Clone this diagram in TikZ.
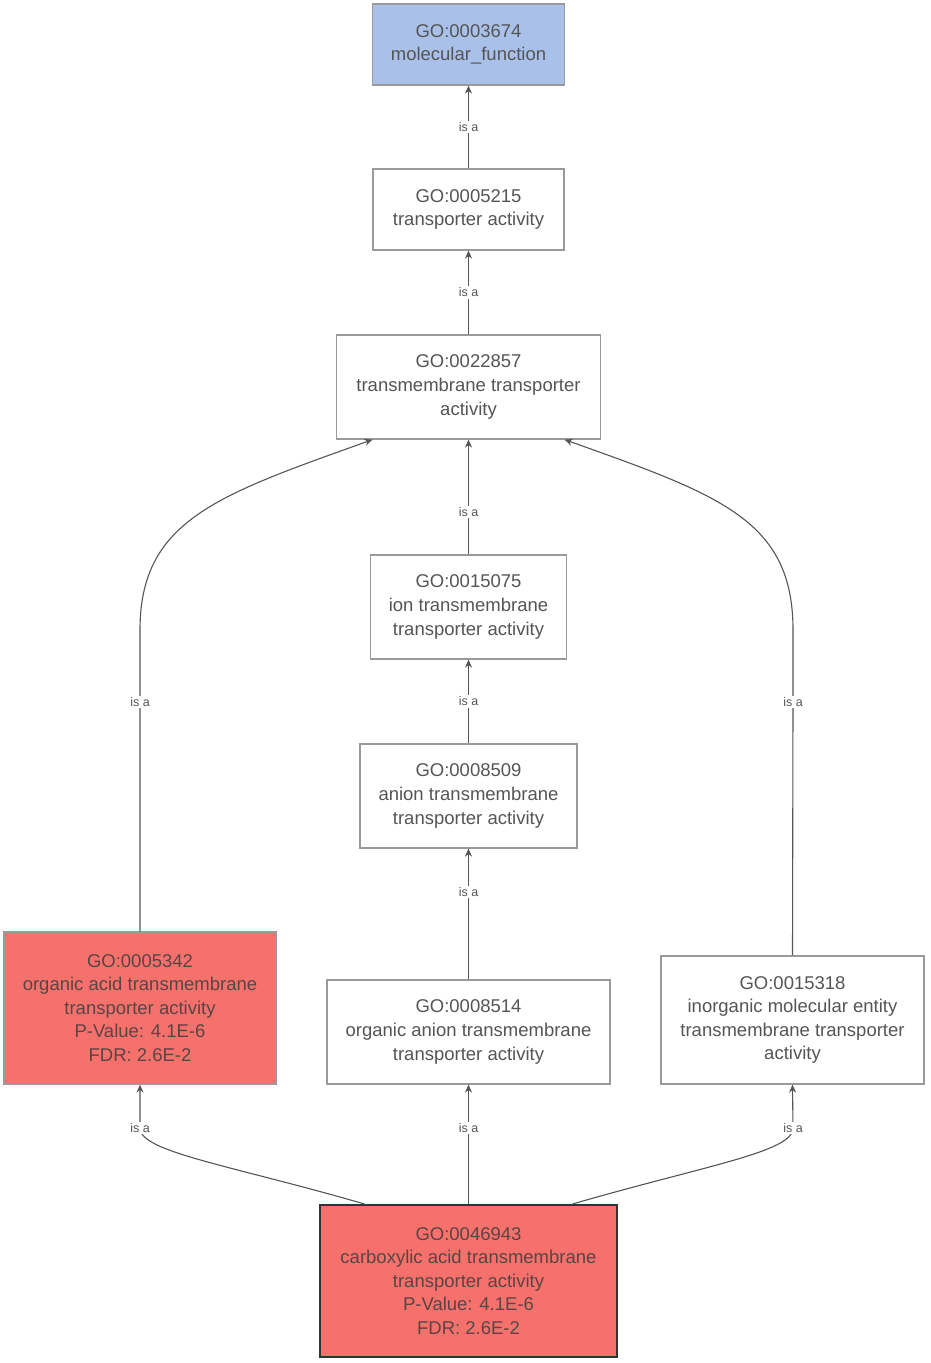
\documentclass[tikz,border=0pt]{standalone}
\usepackage{fontspec}
\setmainfont{Liberation Sans}
\usetikzlibrary{arrows.meta}
\definecolor{txt}{HTML}{555555}
\definecolor{sigtxt}{HTML}{5A4444}
\definecolor{boxgray}{HTML}{9A9A9A}
\definecolor{edgegray}{HTML}{555555}
\definecolor{sigred}{HTML}{F7716C}
\definecolor{rootblue}{HTML}{A9C1E8}
\definecolor{darkborder}{HTML}{333333}
\begin{document}
\begin{tikzpicture}[x=1pt,y=-1pt,
  goterm/.style={draw=boxgray, line width=1.2pt, fill=white, text=txt, align=center,
    font=\fontsize{18.5}{23.6}\selectfont, inner sep=0pt,
    execute at begin node={\rule{0pt}{19pt}}},
  sigterm/.style={goterm, fill=sigred, text=sigtxt},
  rootterm/.style={goterm, fill=rootblue},
  queryterm/.style={goterm, fill=sigred, text=sigtxt, draw=darkborder, line width=2pt},
  lbl/.style={fill=white, text=txt, font=\fontsize{12.5}{14}\selectfont, inner sep=1.5pt},
  isa/.style={draw=edgegray, line width=1.1pt, -{Stealth[length=8pt,width=7pt]}}]
\useasboundingbox (0,0) rectangle (930,1363);
\node[rootterm, minimum width=192pt, minimum height=81pt] (n1) at (468.5,44.5) {GO:0003674\\molecular\_function};
\node[goterm, minimum width=191pt, minimum height=81pt] (n2) at (468.5,209.5) {GO:0005215\\transporter activity};
\node[goterm, minimum width=264pt, minimum height=104pt] (n3) at (468.5,387) {GO:0022857\\transmembrane transporter\\activity};
\node[goterm, minimum width=196pt, minimum height=104pt] (n4) at (468.5,607) {GO:0015075\\ion transmembrane\\transporter activity};
\node[goterm, minimum width=217pt, minimum height=104pt] (n5) at (468.5,796) {GO:0008509\\anion transmembrane\\transporter activity};
\node[sigterm, minimum width=272pt, minimum height=152pt] (n6) at (140,1008) {GO:0005342\\organic acid transmembrane\\transporter activity\\P-Value: 4.1E-6\\FDR: 2.6E-2};
\node[goterm, minimum width=283pt, minimum height=104pt] (n7) at (468.5,1032) {GO:0008514\\organic anion transmembrane\\transporter activity};
\node[goterm, minimum width=263pt, minimum height=128pt] (n8) at (792.5,1020) {GO:0015318\\inorganic molecular entity\\transmembrane transporter\\activity};
\node[queryterm, minimum width=297pt, minimum height=152pt] (n9) at (468.5,1281) {GO:0046943\\carboxylic acid transmembrane\\transporter activity\\P-Value: 4.1E-6\\FDR: 2.6E-2};

\draw[isa] (n2.north) -- node[lbl]{is a} (n1.south);
\draw[isa] (n3.north) -- node[lbl]{is a} (n2.south);
\draw[isa] (n4.north) -- node[lbl, pos=0.37]{is a} (n3.south);
\draw[isa] (n5.north) -- node[lbl]{is a} (n4.south);
\draw[isa] (n7.north) -- node[lbl, pos=0.67]{is a} (n5.south);
\draw[isa] (n6.north) -- (140,702) node[lbl]{is a} -- (140,630)
  .. controls (140,520) and (218,495) .. ([xshift=-96pt]n3.south);
\draw[isa] (n8.north) -- (793,702) node[lbl]{is a} -- (793,630)
  .. controls (793,520) and (720,495) .. ([xshift=96pt]n3.south);
\draw[isa] (n9.north) -- node[lbl, pos=0.64]{is a} (n7.south);
\draw[isa] ([xshift=-104pt]n9.north) .. controls (230,1165) and (140,1152) .. (140,1128) node[lbl]{is a} -- (n6.south);
\draw[isa] ([xshift=104pt]n9.north) .. controls (707,1165) and (793,1152) .. (793,1128) node[lbl]{is a} -- (n8.south);
\end{tikzpicture}
\end{document}
